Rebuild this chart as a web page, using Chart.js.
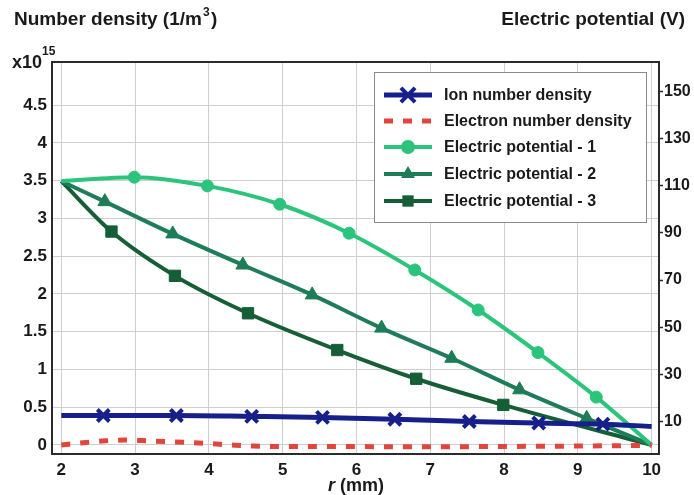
<!DOCTYPE html>
<html lang="en">
<head>
  <meta charset="UTF-8" />
  <title>Number density and electric potential vs r</title>
  <script src="https://cdn.jsdelivr.net/npm/chart.js"></script>
  <style>
    body { margin: 0; background: #fff; }
    #wrap { width: 694px; height: 495px; }
  </style>
</head>
<body>
  <div id="wrap"><canvas id="chart" width="694" height="495"></canvas></div>

  <script>
    // values: r in mm, densities in units of 1e15 1/m^3, potentials in V
    const rTicks = [2, 3, 4, 5, 6, 7, 8, 9, 10];
    const densityTicks = [0, 0.5, 1, 1.5, 2, 2.5, 3, 3.5, 4, 4.5];
    const potentialTicks = [10, 30, 50, 70, 90, 110, 130, 150];

    const ionR = [2, 2.57, 3.56, 4.58, 5.54, 6.52, 7.53, 8.47, 9.34, 10];
    const ionDensity = [0.39, 0.39, 0.39, 0.378, 0.364, 0.34, 0.31, 0.29, 0.275, 0.245];

    const elecR = [2, 2.3, 2.6, 2.85, 3.1, 3.4, 3.7, 4.0, 4.3, 4.6, 5.0, 6.0, 7.0, 8.0, 9.0, 10];
    const elecDensity = [0, 0.03, 0.055, 0.065, 0.058, 0.045, 0.033, 0.018, 0, -0.015, -0.022, -0.022, -0.025, -0.02, -0.015, -0.005];

    const pot1R = [2, 2.99, 3.98, 4.96, 5.9, 6.79, 7.65, 8.46, 9.25, 10];
    const pot1V = [112, 113.7, 110, 102.2, 89.9, 74.3, 57.3, 39.2, 20.3, 0];

    const pot2R = [2, 2.59, 3.51, 4.46, 5.4, 6.34, 7.29, 8.21, 9.12, 10];
    const pot2V = [112, 103.3, 89.6, 76.4, 63.7, 49.6, 36.8, 23.4, 11.3, 0];

    const pot3R = [2, 2.68, 3.54, 4.53, 5.74, 6.81, 7.99, 10];
    const pot3V = [112, 90.6, 71.8, 55.9, 40.3, 28.1, 17, 0];

    const labels = [
      "Ion number density",
      "Electron number density",
      "Electric potential - 1",
      "Electric potential - 2",
      "Electric potential - 3"
    ];

    const FONT = "'Liberation Sans', Arial, sans-serif";
    const INK = "#1a1a1a";

    function pts(xs, ys) {
      return xs.map((x, i) => ({ x: x, y: ys[i] }));
    }
    // markers on inner points only, not on the end points
    function innerRadius(r) {
      return ctx => {
        const n = ctx.dataset.data.length;
        return (ctx.dataIndex === 0 || ctx.dataIndex === n - 1) ? 0 : r;
      };
    }
    function fixedTicks(values) {
      return scale => { scale.ticks = values.map(v => ({ value: v })); };
    }

    function series(label, data, axis, color, style, radius, extra) {
      return Object.assign({
        label: label,
        data: data,
        yAxisID: axis,
        borderColor: color,
        backgroundColor: color,
        borderWidth: 4,
        pointStyle: style,
        pointRadius: innerRadius(radius),
        pointBackgroundColor: color,
        pointBorderColor: color,
        pointBorderWidth: style === "crossRot" ? 4 : 1,
        cubicInterpolationMode: "monotone",
        fill: false
      }, extra || {});
    }

    function drawMarker(ctx, style, r, x, y, color) {
      ctx.save();
      ctx.fillStyle = color;
      ctx.strokeStyle = color;
      ctx.beginPath();
      if (style === "circle") {
        ctx.arc(x, y, r, 0, Math.PI * 2);
        ctx.fill();
      } else if (style === "triangle") {
        ctx.moveTo(x, y - r);
        ctx.lineTo(x + r * 0.866, y + r * 0.5);
        ctx.lineTo(x - r * 0.866, y + r * 0.5);
        ctx.closePath();
        ctx.fill();
      } else if (style === "rect") {
        const s = r * Math.SQRT1_2;
        ctx.rect(x - s, y - s, 2 * s, 2 * s);
        ctx.fill();
      } else if (style === "crossRot") {
        const s = r * Math.SQRT1_2;
        ctx.lineWidth = 4;
        ctx.moveTo(x - s, y - s); ctx.lineTo(x + s, y + s);
        ctx.moveTo(x - s, y + s); ctx.lineTo(x + s, y - s);
        ctx.stroke();
      }
      ctx.restore();
    }

    const decorations = {
      id: "decorations",
      afterDraw(chart) {
        const ctx = chart.ctx;
        const a = chart.chartArea;
        ctx.save();

        // frame
        ctx.strokeStyle = "#2b2b2b";
        ctx.lineWidth = 2;
        ctx.strokeRect(a.left, a.top, a.right - a.left, a.bottom - a.top);

        // axis titles
        ctx.fillStyle = INK;
        ctx.textBaseline = "alphabetic";
        ctx.textAlign = "left";
        ctx.font = "bold 19px " + FONT;
        const t1 = "Number density (1/m";
        ctx.fillText(t1, 14, 25);
        let w = ctx.measureText(t1).width;
        ctx.font = "bold 12px " + FONT;
        ctx.fillText("3", 14 + w + 1, 16);
        ctx.font = "bold 19px " + FONT;
        ctx.fillText(")", 14 + w + 9, 25);

        ctx.textAlign = "right";
        ctx.fillText("Electric potential (V)", 685, 25);

        // exponent of the left axis
        ctx.textAlign = "left";
        ctx.font = "bold 18px " + FONT;
        ctx.fillText("x10", 12, 68);
        w = ctx.measureText("x10").width;
        ctx.font = "bold 12px " + FONT;
        ctx.fillText("15", 12 + w, 55);

        // x axis title: italic r
        ctx.font = "italic bold 18px " + FONT;
        const rw = ctx.measureText("r").width;
        ctx.font = "bold 18px " + FONT;
        const mw = ctx.measureText(" (mm)").width;
        const x0 = 356 - (rw + mw) / 2;
        ctx.font = "italic bold 18px " + FONT;
        ctx.fillText("r", x0, 491);
        ctx.font = "bold 18px " + FONT;
        ctx.fillText(" (mm)", x0 + rw, 491);

        // legend box
        const box = { left: 374, top: 72, right: 646, bottom: 222 };
        ctx.fillStyle = "#fff";
        ctx.fillRect(box.left, box.top, box.right - box.left, box.bottom - box.top);
        ctx.strokeStyle = "#8a8a8a";
        ctx.lineWidth = 1;
        ctx.strokeRect(box.left + 0.5, box.top + 0.5, box.right - box.left, box.bottom - box.top);

        const rowY = [95, 121, 147, 174, 201];
        chart.data.datasets.forEach((ds, i) => {
          const y = rowY[i];
          ctx.save();
          ctx.strokeStyle = ds.borderColor;
          ctx.lineWidth = ds.borderWidth;
          ctx.setLineDash(ds.borderDash || []);
          ctx.beginPath();
          ctx.moveTo(384, y);
          ctx.lineTo(432, y);
          ctx.stroke();
          ctx.restore();
          if (ds.pointStyle && ds.legendRadius) {
            drawMarker(ctx, ds.pointStyle, ds.legendRadius, 408, y, ds.borderColor);
          }
          ctx.fillStyle = INK;
          ctx.font = "bold 16px " + FONT;
          ctx.textAlign = "left";
          ctx.textBaseline = "middle";
          ctx.fillText(ds.label, 444, y + 1);
        });
        ctx.restore();
      }
    };

    const tickFont = { family: FONT, size: 17, weight: "bold" };
    const rightFont = { family: FONT, size: 16, weight: "bold" };

    new Chart(document.getElementById("chart"), {
      type: "line",
      data: {
        datasets: [
          series(labels[0], pts(ionR, ionDensity), "y", "#17208a", "crossRot", 8.5, { borderWidth: 5, legendRadius: 10 }),
          series(labels[1], pts(elecR, elecDensity), "y", "#e2453c", false, 0, { borderDash: [9, 10], borderWidth: 5, pointRadius: 0 }),
          series(labels[2], pts(pot1R, pot1V), "y1", "#2bc47a", "circle", 6, { legendRadius: 7 }),
          series(labels[3], pts(pot2R, pot2V), "y1", "#1e7d58", "triangle", 8, { legendRadius: 8 }),
          series(labels[4], pts(pot3R, pot3V), "y1", "#155e36", "rect", 8, { legendRadius: 8 })
        ]
      },
      options: {
        responsive: false,
        animation: false,
        devicePixelRatio: 1,
        layout: { padding: { top: 62, left: 0, right: 0, bottom: 0 } },
        plugins: {
          legend: { display: false },
          tooltip: { enabled: false }
        },
        scales: {
          x: {
            type: "linear",
            min: 1.874,
            max: 10.1,
            afterBuildTicks: fixedTicks(rTicks),
            afterFit: s => { s.height = 41; },
            grid: { color: "#cfcfcf", lineWidth: 1, drawTicks: false },
            border: { display: false },
            ticks: { font: tickFont, color: INK, padding: 6, maxRotation: 0, autoSkip: false, callback: v => String(v) }
          },
          y: {
            position: "left",
            min: -0.12,
            max: 5.07,
            afterBuildTicks: fixedTicks(densityTicks),
            afterFit: s => { s.width = 52; },
            grid: { color: "#cfcfcf", lineWidth: 1, drawTicks: false },
            border: { display: false },
            ticks: { font: tickFont, color: INK, padding: 5, autoSkip: false, callback: v => String(v) }
          },
          y1: {
            position: "right",
            min: -3.85,
            max: 162.6,
            afterBuildTicks: fixedTicks(potentialTicks),
            afterFit: s => { s.width = 35; },
            grid: { drawOnChartArea: false, drawTicks: true, tickLength: 4, tickColor: "#2b2b2b", tickWidth: 1.5 },
            border: { display: false },
            ticks: { font: rightFont, color: INK, padding: 1, autoSkip: false, callback: v => String(v) }
          }
        }
      },
      plugins: [decorations]
    });
  </script>
</body>
</html>
